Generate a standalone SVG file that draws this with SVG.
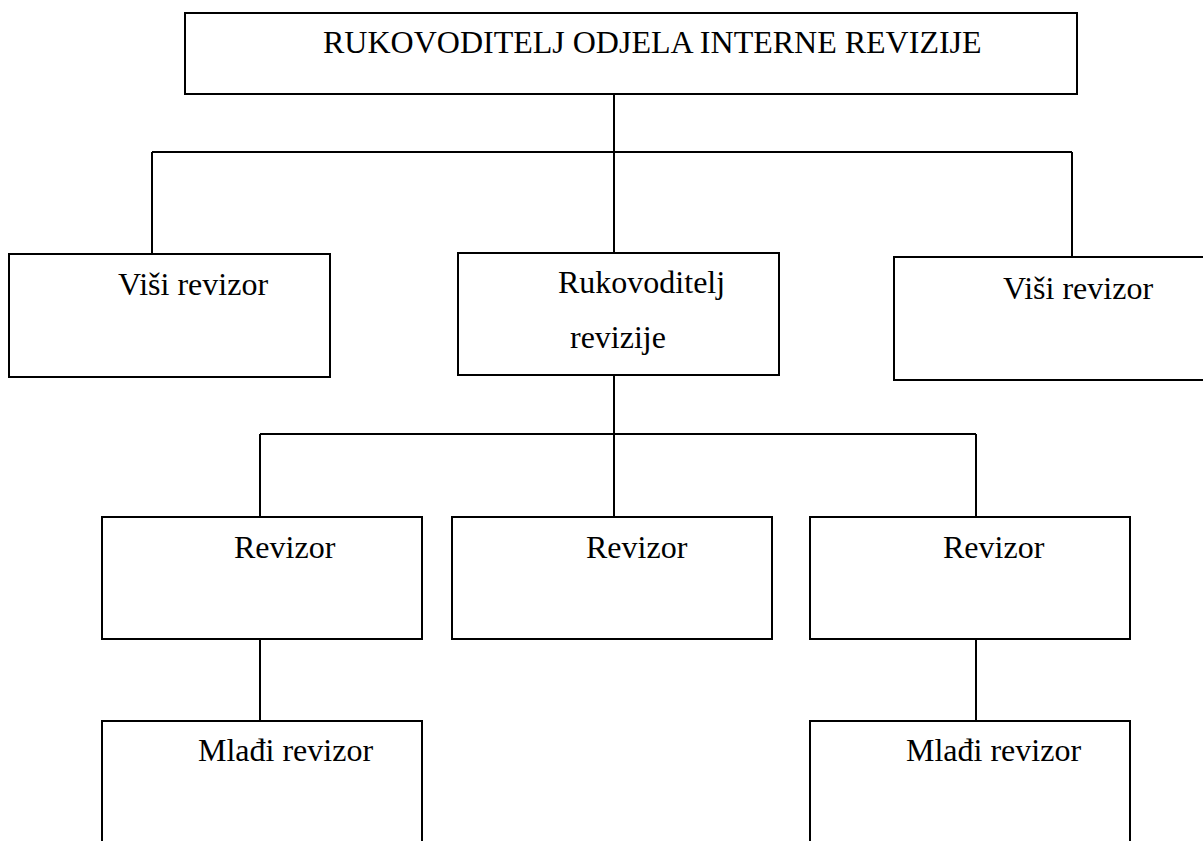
<svg xmlns="http://www.w3.org/2000/svg" width="1203" height="841" viewBox="0 0 1203 841">
<style>
.box{fill:#fff;stroke:#000;stroke-width:2}
.ln{fill:none;stroke:#000;stroke-width:2}
text{font-family:"Liberation Serif","Times New Roman",serif;font-size:32px;fill:#000}
</style>
<rect width="1203" height="841" fill="#fff"/>
<g id="connectors">
<path class="ln" d="M614,94V253M152,152H1072M152,152V254M1072,152V258"/>
<path class="ln" d="M614,375V517M260,434H976M260,434V517M976,434V517"/>
<path class="ln" d="M260,639V721M976,639V721"/>
</g>
<g id="n-top"><rect class="box" x="185" y="13" width="892" height="81"/><text x="323" y="53">RUKOVODITELJ ODJELA INTERNE REVIZIJE</text></g>
<g id="n-visi1"><rect class="box" x="9" y="254" width="321" height="123"/><text x="118" y="295">Viši revizor</text></g>
<g id="n-rukrev"><rect class="box" x="458" y="253" width="321" height="122"/><text x="558" y="293">Rukovoditelj</text><text x="570" y="348">revizije</text></g>
<g id="n-visi2"><rect class="box" x="894" y="257" width="320" height="123"/><text x="1003" y="299">Viši revizor</text></g>
<g id="n-rev1"><rect class="box" x="102" y="517" width="320" height="122"/><text x="234" y="558">Revizor</text></g>
<g id="n-rev2"><rect class="box" x="452" y="517" width="320" height="122"/><text x="586" y="558">Revizor</text></g>
<g id="n-rev3"><rect class="box" x="810" y="517" width="320" height="122"/><text x="943" y="558">Revizor</text></g>
<g id="n-mladi1"><rect class="box" x="102" y="721" width="320" height="140"/><text x="198" y="761">Mlađi revizor</text></g>
<g id="n-mladi2"><rect class="box" x="810" y="721" width="320" height="140"/><text x="906" y="761">Mlađi revizor</text></g>
</svg>
